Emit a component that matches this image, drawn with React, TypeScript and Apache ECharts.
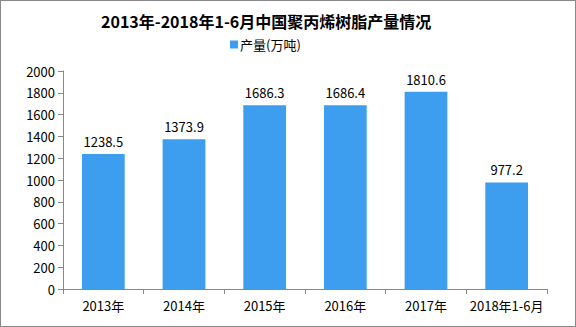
import React, { useEffect, useRef } from "react";
import * as echarts from "echarts";

const categories = ["2013年", "2014年", "2015年", "2016年", "2017年", "2018年1-6月"];
const production = [1238.5, 1373.9, 1686.3, 1686.4, 1810.6, 977.2];
const seriesName = "产量(万吨)";
const titleText = "2013年-2018年1-6月中国聚丙烯树脂产量情况";

const FONT = "'Noto Sans CJK SC', 'DejaVu Sans', sans-serif";

export default function App() {
  const ref = useRef<HTMLDivElement>(null);
  useEffect(() => {
    document.body.style.margin = "0";
    const chart = echarts.init(ref.current!, null, { renderer: "svg" });
    chart.setOption({
      animation: false,
      backgroundColor: "#fff",
      title: {
        text: titleText,
        left: 95,
        top: 7,
        textStyle: { fontFamily: FONT, fontSize: 16, fontWeight: "bold", color: "#000" },
      },
      legend: {
        data: [seriesName],
        left: 224,
        top: 32,
        itemWidth: 8,
        itemHeight: 8,
        itemGap: 2,
        icon: "rect",
        textStyle: { fontFamily: FONT, fontSize: 13, color: "#000", padding: [0, 0, 0, -3] },
      },
      grid: { left: 62, right: 28, top: 70, bottom: 37, containLabel: false },
      xAxis: {
        type: "category",
        data: categories,
        axisLine: { lineStyle: { color: "#888" } },
        axisTick: { show: true, alignWithLabel: false, length: 5, lineStyle: { color: "#888" } },
        axisLabel: { fontFamily: FONT, fontSize: 13, color: "#000", margin: 10, interval: 0 },
      },
      yAxis: {
        type: "value",
        min: 0,
        max: 2000,
        interval: 200,
        axisLine: { show: true, lineStyle: { color: "#888" } },
        axisTick: { show: true, length: 5, lineStyle: { color: "#888" } },
        splitLine: { show: false },
        axisLabel: {
          fontFamily: FONT,
          fontSize: 13,
          color: "#000",
          margin: 8,
          formatter: (v: number) => String(v),
        },
      },
      series: [
        {
          name: seriesName,
          type: "bar",
          data: production,
          barWidth: "53%",
          itemStyle: { color: "#3d9ef0" },
          label: {
            show: true,
            position: "top",
            distance: 6,
            fontFamily: FONT,
            fontSize: 13,
            color: "#000",
            formatter: (p: any) => p.value.toFixed(1),
          },
        },
      ],
    });
    return () => chart.dispose();
  }, []);
  return (
    <div
      style={{
        width: 576,
        height: 327,
        border: "1px solid #888",
        boxSizing: "border-box",
        position: "relative",
      }}
    >
      <div ref={ref} style={{ width: 574, height: 325 }} />
    </div>
  );
}
